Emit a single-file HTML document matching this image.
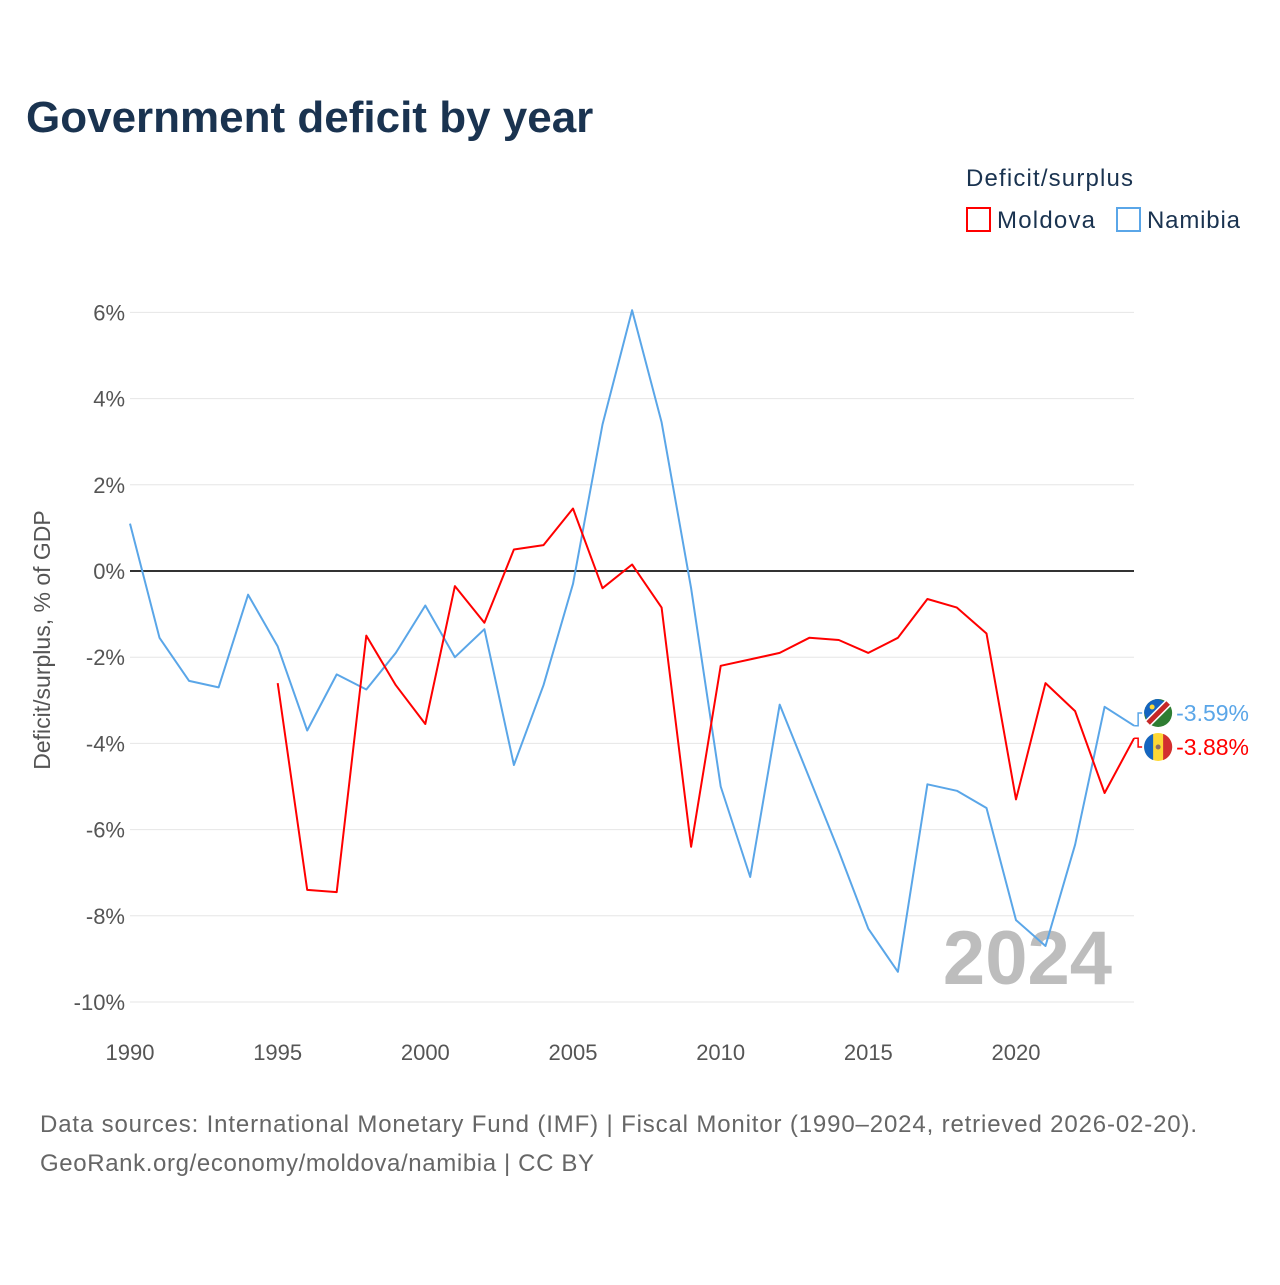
<!DOCTYPE html>
<html><head><meta charset="utf-8">
<style>
html,body{margin:0;padding:0;background:#fff;}
body{width:1280px;height:1280px;overflow:hidden;font-family:"Liberation Sans",sans-serif;}
</style></head>
<body>
<svg id="chart" width="1280" height="1280" xmlns="http://www.w3.org/2000/svg" font-family="Liberation Sans, sans-serif">
<text x="26" y="132" font-size="44" font-weight="bold" fill="#1a3350">Government deficit by year</text>
<text x="966" y="186" font-size="24" fill="#1a3350" textLength="167">Deficit/surplus</text>
<g>
<rect x="967" y="208" width="23" height="23" fill="none" stroke="#ff0000" stroke-width="2"/>
<text x="997" y="228" font-size="24" fill="#1a3350" textLength="98">Moldova</text></g>
<g>
<rect x="1117" y="208" width="23" height="23" fill="none" stroke="#5aa6e8" stroke-width="2"/>
<text x="1147" y="228" font-size="24" fill="#1a3350" textLength="93">Namibia</text></g>
<text transform="translate(50,640) rotate(-90)" text-anchor="middle" font-size="23" fill="#555">Deficit/surplus, % of GDP</text>
<g id="grid"></g>
<g id="yticks"></g>
<g id="xticks"></g>
<text x="1112" y="984" text-anchor="end" font-size="76" font-weight="bold" fill="#bdbdbd">2024</text>
<g id="series"></g>
<text x="40" y="1132" font-size="24" fill="#666" textLength="1157">Data sources: International Monetary Fund (IMF) | Fiscal Monitor (1990–2024, retrieved 2026-02-20).</text>
<text x="40" y="1171" font-size="24" fill="#666" textLength="554">GeoRank.org/economy/moldova/namibia | CC BY</text>
</svg>
<script>
const years = [];
for (let y = 1990; y <= 2024; y++) years.push(y);
const yTicks = [6,4,2,0,-2,-4,-6,-8,-10];
const xTicks = [1990,1995,2000,2005,2010,2015,2020];
const namibia = [1.1,-1.55,-2.55,-2.7,-0.55,-1.75,-3.7,-2.4,-2.75,-1.9,-0.8,-2.0,-1.35,-4.5,-2.65,-0.3,3.4,6.05,3.45,-0.4,-5.0,-7.1,-3.1,-4.8,-6.5,-8.3,-9.3,-4.95,-5.1,-5.5,-8.1,-8.7,-6.35,-3.15,-3.59];
const moldova = [null,null,null,null,null,-2.6,-7.4,-7.45,-1.5,-2.65,-3.55,-0.35,-1.2,0.5,0.6,1.45,-0.4,0.15,-0.85,-6.4,-2.2,-2.05,-1.9,-1.55,-1.6,-1.9,-1.55,-0.65,-0.85,-1.45,-5.3,-2.6,-3.25,-5.15,-3.88];

const NS = 'http://www.w3.org/2000/svg';
const xS = yr => 130 + (yr - 1990) * (1016 - 130) / 30;
const yS = v => 571 - v * 43.1;
function mk(tag, attrs, parent) { const e = document.createElementNS(NS, tag); for (const k in attrs) e.setAttribute(k, attrs[k]); parent.appendChild(e); return e; }

const grid = document.getElementById('grid'), yt = document.getElementById('yticks'), xt = document.getElementById('xticks'), ser = document.getElementById('series');
yTicks.forEach(v => {
  const l = mk('line', {x1:130, x2:1134, y1:yS(v), y2:yS(v), stroke: v===0?'#333':'#e6e6e6', 'stroke-width': v===0?2:1}, grid);
  
  
  const t = mk('text', {x:125, y:yS(v)+8, 'text-anchor':'end', 'font-size':22, fill:'#555'}, yt);
  
  
  t.textContent = v + '%';
});
xTicks.forEach(yr => {
  const t = mk('text', {x:xS(yr), y:1060, 'text-anchor':'middle', 'font-size':22, fill:'#555'}, xt);
  
  
  t.textContent = yr;
});
function line(vals, color, name) {
  let d = '', pen = false;
  vals.forEach((v, i) => { if (v === null) { pen = false; return; } d += (pen ? 'L' : 'M') + xS(years[i]).toFixed(1) + ',' + yS(v).toFixed(1); pen = true; });
  const p = mk('path', {d, fill:'none', stroke:color, 'stroke-width':2, 'stroke-linejoin':'round'}, ser);
  
  
}
line(namibia, '#5aa6e8', 'namibia-line');
line(moldova, '#ff0000', 'moldova-line');

function endLabel(v, color, name, labY, flag) {
  const x0 = xS(2024), y0 = yS(v);
  const c = mk('path', {d:`M${x0},${y0} L${x0+4},${y0} L${x0+4},${labY} L${x0+8},${labY}`, fill:'none', stroke:color, 'stroke-width':1.5}, ser);
  
  
  const g = mk('g', {}, ser);
  
  
  const cx = x0 + 24;
  if (flag === 'na') {
    mk('circle', {cx, cy:labY, r:14, fill:'#2e7d32'}, g);
    mk('path', {d:`M${cx-14},${labY} A14,14 0 0 1 ${cx},${labY-14} L${cx+10},${labY-10} L${cx-10},${labY+10} Z`, fill:'#1565c0'}, g);
    mk('line', {x1:cx-10, y1:labY+10, x2:cx+10, y2:labY-10, stroke:'#fff', 'stroke-width':8}, g);
    mk('line', {x1:cx-10, y1:labY+10, x2:cx+10, y2:labY-10, stroke:'#c62828', 'stroke-width':5}, g);
    mk('circle', {cx:cx-6, cy:labY-6, r:2.5, fill:'#fdd835'}, g);
  } else {
    mk('circle', {cx, cy:labY, r:14, fill:'#fdd835'}, g);
    mk('path', {d:`M${cx-5},${labY-13.1} A14,14 0 0 0 ${cx-5},${labY+13.1} Z`, fill:'#1565c0'}, g);
    mk('path', {d:`M${cx+5},${labY-13.1} A14,14 0 0 1 ${cx+5},${labY+13.1} Z`, fill:'#d32f2f'}, g);
    mk('circle', {cx, cy:labY, r:2.5, fill:'#8d6e63'}, g);
  }
  const t = mk('text', {x:x0+42, y:labY+8, 'font-size':23, fill:color}, ser);
  
  
  t.textContent = v.toFixed(2) + '%';
}
endLabel(namibia[namibia.length-1], '#5aa6e8', 'namibia-end', 713, 'na');
endLabel(moldova[moldova.length-1], '#ff0000', 'moldova-end', 747, 'md');
</script>
</body></html>
